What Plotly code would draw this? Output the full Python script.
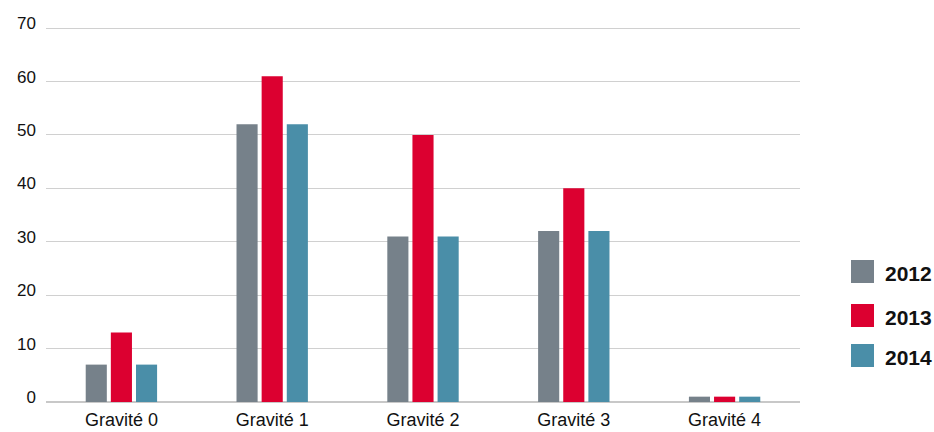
import plotly.graph_objects as go

categories = ["Gravité 0", "Gravité 1", "Gravité 2", "Gravité 3", "Gravité 4"]
series_names = ["2012", "2013", "2014"]
values_2012 = [7, 52, 31, 32, 1]
values_2013 = [13, 61, 50, 40, 1]
values_2014 = [7, 52, 31, 32, 1]
colors = ["#76818a", "#dc0030", "#4a8ea8"]
y_ticks = [0, 10, 20, 30, 40, 50, 60, 70]

W, H = 934, 432
L, R, T, B = 46, 134, 26, 30
Y_MAX = 70.4
FONT = "Liberation Sans, Arial, Helvetica, sans-serif"

fig = go.Figure()
for name, vals, col in zip(series_names, [values_2012, values_2013, values_2014], colors):
    fig.add_trace(go.Bar(x=categories, y=vals, name=name, marker_color=col,
                         marker_line_width=0, showlegend=False, hoverinfo="skip"))

# custom legend (large squares, bold labels)
pw, ph = W - L - R, H - T - B
def px_x(x):
    return (x - L) / pw
def px_y(y):
    return (H - B - y) / ph

row_tops = [260, 304, 344]
for name, col, top in zip(series_names, colors, row_tops):
    fig.add_shape(type="rect", xref="paper", yref="paper",
                  x0=px_x(851), x1=px_x(874), y0=px_y(top + 23), y1=px_y(top),
                  fillcolor=col, line_width=0)
    fig.add_annotation(xref="paper", yref="paper", x=px_x(883), y=px_y(top + 13),
                       text="<b>" + name + "</b>", showarrow=False,
                       xanchor="left", yanchor="middle",
                       font=dict(family=FONT, size=21, color="#111111"))

fig.update_layout(
    width=W, height=H,
    margin=dict(l=L, r=R, t=T, b=B, autoexpand=False),
    paper_bgcolor="white", plot_bgcolor="white",
    barmode="group", bargap=0.5, bargroupgap=0.16,
    font=dict(family=FONT, size=18, color="#111111"),
)
fig.update_xaxes(showgrid=False, showline=False, ticks="", tickfont=dict(size=18),
                 ticklabelstandoff=5, automargin=False)
fig.update_yaxes(range=[0, Y_MAX], tickvals=y_ticks, showgrid=True, gridcolor="#d0d0d0",
                 gridwidth=1.3, zeroline=True, zerolinecolor="#c8c8c8", zerolinewidth=1.5,
                 showline=False, ticks="", ticklabelstandoff=9, ticklabelshift=-5,
                 tickfont=dict(size=17), automargin=False)

fig.write_html("out.html", config={"displayModeBar": False},
               post_script="document.body.style.margin='0';document.body.style.padding='0';")
